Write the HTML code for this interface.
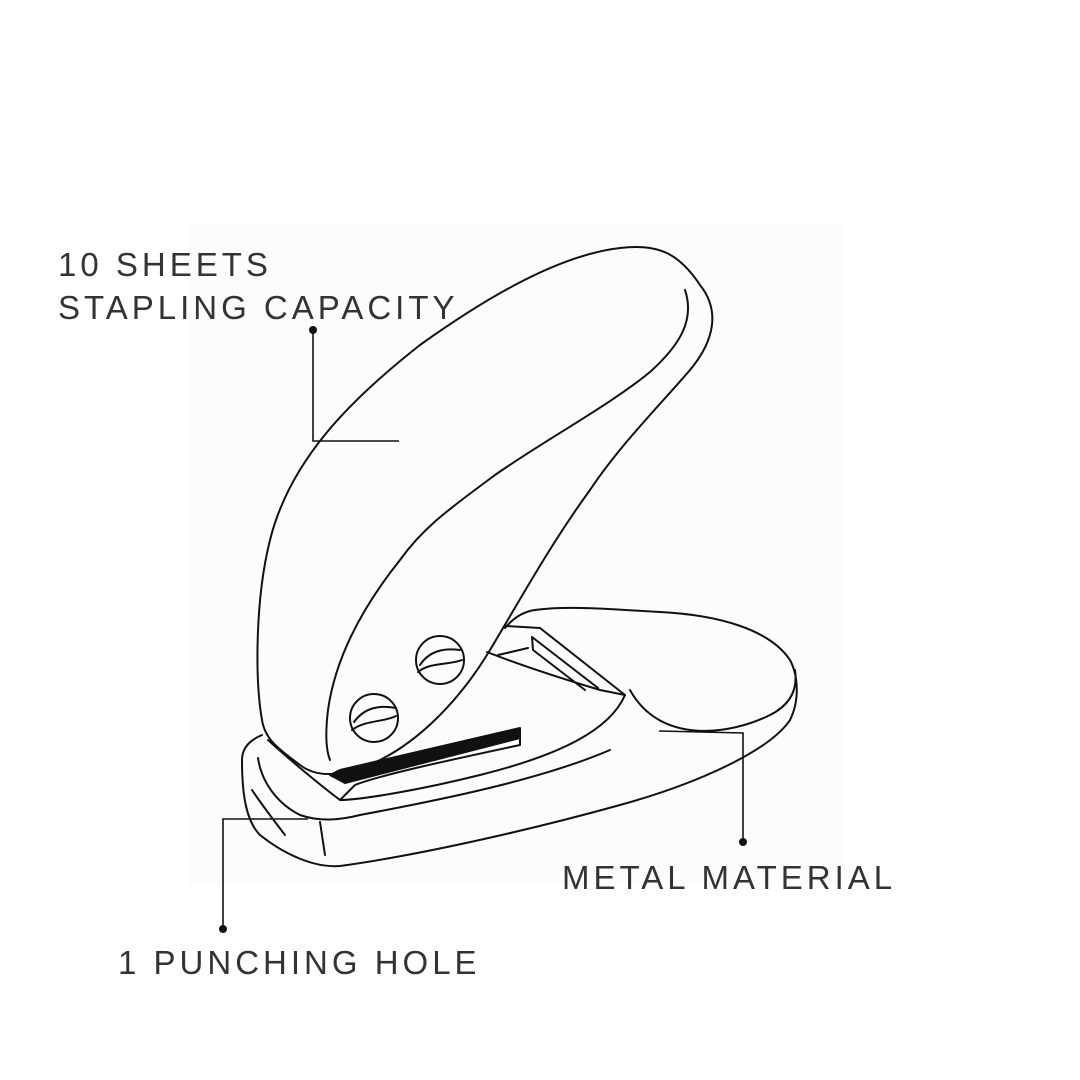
<!DOCTYPE html>
<html><head><meta charset="utf-8"><style>
html,body{margin:0;padding:0;background:#fff;}
svg{display:block;}
text{font-family:"Liberation Sans",sans-serif;font-size:33px;fill:#333;letter-spacing:4px;font-weight:normal;}
</style></head><body>
<svg width="1080" height="1080" viewBox="0 0 1080 1080" xmlns="http://www.w3.org/2000/svg">
<rect x="188" y="225" width="657" height="660" fill="#fcfcfc"/>
<g fill="none" stroke="#111" stroke-width="2" stroke-linejoin="round" stroke-linecap="round">
<path d="M262,720 C255,680 255,600 270,540 C290,460 350,400 420,345 C490,295 560,255 620,248 C660,243 680,255 700,285 C720,310 715,340 690,370 C660,405 620,445 590,490 C550,545 520,600 490,650 C460,700 420,740 380,760 C345,775 320,780 300,765 C280,750 265,740 262,720 Z"/>
<path d="M685,290 C695,320 680,345 650,372 C610,405 545,440 495,475 C455,505 425,525 400,560 C360,610 335,660 328,710 C325,735 326,750 330,760"/>
<circle cx="440" cy="660" r="24"/>
<path d="M420,665 C430,650 445,648 460,650 M418,672 C430,662 450,665 462,660"/>
<circle cx="374" cy="718" r="24"/>
<path d="M354,722 C365,707 380,705 396,708 M352,730 C365,720 385,722 396,716"/>
<path d="M262,735 C250,740 242,748 242,760 C242,790 245,820 260,835 C285,855 315,868 340,866 C420,855 530,830 620,805 C700,783 770,750 790,720 C800,700 798,675 790,660 C770,630 720,615 660,612 C620,610 570,605 535,610 C520,612 510,622 505,628"/>
<path d="M795,670 C798,690 790,705 770,715 C730,735 660,745 630,690"/>
<path d="M268,740 C290,760 320,785 340,800 C360,800 420,790 480,775 C560,755 610,730 625,695"/>
<path d="M258,758 C262,785 280,805 300,815 C320,822 340,820 360,815 C440,800 540,780 610,750"/>
<path d="M252,790 C262,805 275,822 285,835 M320,822 C322,835 324,848 325,855"/>
<path d="M340,800 L355,785 C380,775 450,760 520,745 L520,730"/>
<path d="M487,652 C520,665 560,678 600,690 L625,695 L540,628 L505,626"/>
<path d="M532,637 L598,688 M532,637 L533,650 L585,690 M498,655 L528,648"/>
<path d="M330,775 L345,783 L520,738 L520,728 L340,770 Z" fill="#111"/>
</g>
<g fill="none" stroke="#111" stroke-width="1.6">
<path d="M313,330 L313,441 L399,441"/>
<path d="M659,731 L743,733 L743,842"/>
<path d="M308,819 L223,819 L223,929"/>
</g>
<g fill="#111"><circle cx="313" cy="330" r="4"/><circle cx="743" cy="842" r="4"/><circle cx="223" cy="929" r="4"/></g>
<text x="58" y="276">10 SHEETS</text>
<text x="58" y="319">STAPLING CAPACITY</text>
<text x="562" y="889">METAL MATERIAL</text>
<text x="118" y="974">1 PUNCHING HOLE</text>
</svg>
</body></html>
